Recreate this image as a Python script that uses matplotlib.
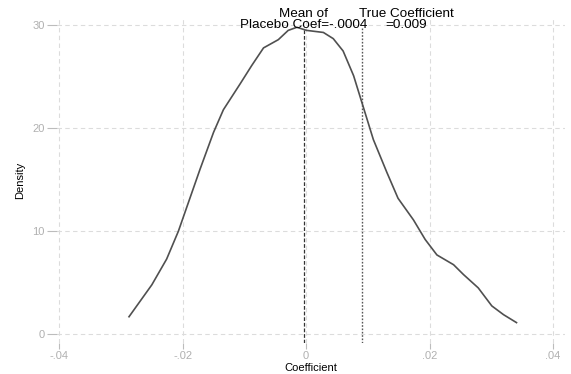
import matplotlib
matplotlib.use("Agg")
import matplotlib.pyplot as plt

# placebo coefficient density
coef = [-0.0287, -0.0250, -0.0226, -0.0207, -0.0172, -0.0150, -0.0134,
        -0.0107, -0.0088, -0.0069, -0.0045, -0.0029, -0.0015, 0.0001, 0.0028,
        0.0044, 0.0060, 0.0077, 0.0093, 0.0109, 0.0131, 0.0149, 0.0174,
        0.0193, 0.0212, 0.0239, 0.0255, 0.0279, 0.0301, 0.0320, 0.0341]
density = [1.7, 4.8, 7.3, 10.0, 16.0, 19.6, 21.8,
           24.3, 26.1, 27.8, 28.6, 29.5, 29.8, 29.5, 29.3,
           28.7, 27.5, 25.1, 22.0, 18.9, 15.7, 13.2, 11.1,
           9.2, 7.7, 6.75, 5.8, 4.5, 2.75, 1.9, 1.13]

mean_placebo = -0.0004
true_coef = 0.009
xticks = [-0.04, -0.02, 0, 0.02, 0.04]
xticklabels = ["-.04", "-.02", "0", ".02", ".04"]
yticks = [0, 10, 20, 30]

plt.rcParams['font.family'] = ['Liberation Sans', 'DejaVu Sans']

fig = plt.figure(figsize=(5.71, 3.74), dpi=100)
ax = fig.add_axes([57 / 571, 1 - 343 / 374, (565 - 57) / 571, (343 - 17) / 374])

grid_kw = dict(color='#dcdcdc', lw=0.8, ls=(0, (4, 3)), zorder=0)
for t in xticks:
    ax.axvline(t, **grid_kw)
for t in yticks:
    ax.axhline(t, **grid_kw)

ax.plot(coef, density, color='#505050', lw=1.2, zorder=3)

ymin, ymax = -0.85, 30.8
ax.vlines(mean_placebo, ymin, 29.7, color='#333333', lw=0.9, ls=(0, (3, 1.5)), zorder=2)
ax.vlines(true_coef, ymin, 29.7, color='#555555', lw=1.0, ls=(0, (1.2, 1.2)), zorder=2)

ax.text(mean_placebo, 29.4, "Mean of\nPlacebo Coef=-.0004", ha='center', va='bottom',
        fontsize=9.7, linespacing=0.95, zorder=4)
ax.text(0.0162, 29.4, "True Coefficient\n=0.009", ha='center', va='bottom',
        fontsize=9.7, linespacing=0.95, zorder=4)

ax.set_xlim(-0.04037, 0.04196)
ax.set_ylim(ymin, ymax)
ax.set_xticks(xticks)
ax.set_xticklabels(xticklabels)
ax.set_yticks(yticks)

for s in ax.spines.values():
    s.set_visible(False)
ax.tick_params(axis='x', colors='#bcbcbc', labelsize=8, length=4, width=0.8, pad=2,
               labelcolor='#b0b0b0')
ax.tick_params(axis='y', colors='#bcbcbc', labelsize=8, length=7, width=0.8, pad=2,
               labelcolor='#b0b0b0')

ax.set_xlabel("Coefficient", fontsize=8, labelpad=1)
ax.set_ylabel("Density", fontsize=8, labelpad=5)

fig.savefig("out.png", dpi=100)
